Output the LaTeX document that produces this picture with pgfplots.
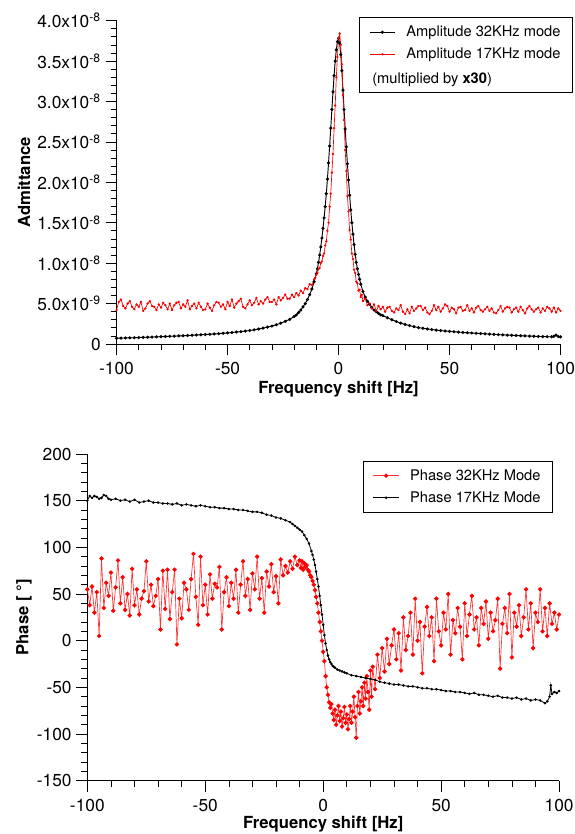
\documentclass[border=0pt]{standalone}
\usepackage{fontspec}
\setmainfont{TeX Gyre Heros}
\usepackage{pgfplots}
\pgfplotsset{compat=1.18}

\newcommand{\lblfont}{\fontsize{12.5}{15}\selectfont\bfseries}
\newcommand{\legfont}{\fontsize{11}{13}\selectfont}

\pgfplotsset{myax/.style={
  scale only axis, axis lines*=left,
  axis line style={-, black, line width=0.6pt},
  tick align=outside, major tick length=8.25pt, minor tick length=4.5pt,
  every tick/.append style={black, line width=0.5pt},
  tick label style={font=\fontsize{13}{15}\selectfont},
  xticklabel shift=2pt,
  /pgf/number format/assume math mode=true,
  xmin=-100, xmax=100, xtick={-100,-50,0,50,100}, xticklabels={-100,-50,0,50,100},
  minor x tick num=4, minor y tick num=4,
  legend cell align=left,
  legend image code/.code={\draw[mark repeat=2,mark phase=2,##1] plot coordinates {(0cm,0cm) (0.34cm,0cm) (0.68cm,0cm)};},
}}

\begin{document}
\begin{tikzpicture}
\useasboundingbox (0,0) rectangle (430.5pt,625.5pt);

% ---------------- top: admittance ----------------
\begin{axis}[myax, at={(87.4pt,367.5pt)}, anchor=south west,
  width=333pt, height=242.5pt,
  ymin=0, ymax=4,
  ytick={0,0.5,1,1.5,2,2.5,3,3.5,4},
  yticklabels={0,5.0x10\textsuperscript{-9},1.0x10\textsuperscript{-8},1.5x10\textsuperscript{-8},2.0x10\textsuperscript{-8},2.5x10\textsuperscript{-8},3.0x10\textsuperscript{-8},3.5x10\textsuperscript{-8},4.0x10\textsuperscript{-8}},
  xlabel={\lblfont Frequency shift [Hz]},
  ylabel={\lblfont Admittance},
  every axis y label/.style={at={(axis description cs:-0.2083,0.5)}, rotate=90, anchor=center},
  every axis x label/.style={at={(axis description cs:0.5,0)}, anchor=base, yshift=-37pt},
  legend style={at={(1.028,1.012)}, anchor=north east, draw=black, line width=0.6pt, inner xsep=7pt, inner ysep=4.5pt, row sep=3pt, column sep=6pt},
]
\addplot[black, line width=0.7pt, mark=*, mark size=0.8pt] coordinates {
(-100,0.071)(-98,0.073)(-96,0.075)(-94,0.076)(-92,0.078)(-90,0.080)(-88,0.082)(-86,0.084)(-84,0.086)(-82,0.088)
(-80,0.091)(-78,0.093)(-76,0.095)(-74,0.097)(-72,0.100)(-70,0.102)(-68,0.105)(-66,0.108)(-64,0.111)(-62,0.114)
(-60,0.117)(-58,0.120)(-56,0.124)(-54,0.128)(-52,0.133)(-50,0.137)(-48,0.142)(-46,0.148)(-44,0.153)(-42,0.160)
(-40,0.167)(-38,0.175)(-36,0.185)(-34,0.196)(-32,0.209)(-30,0.222)(-28,0.238)(-26,0.258)(-24,0.280)(-22,0.305)
(-20,0.340)(-19,0.360)(-18,0.390)(-17,0.420)(-16,0.460)(-15,0.500)(-14,0.550)(-13,0.610)(-12,0.680)(-11,0.770)
(-10,0.870)(-9.5,0.930)(-9,1.010)(-8.5,1.100)(-8,1.200)(-7.5,1.310)(-7,1.430)(-6.5,1.560)(-6,1.700)(-5.5,1.860)
(-5,2.040)(-4.5,2.240)(-4,2.450)(-3.5,2.670)(-3,2.900)(-2.5,3.120)(-2,3.320)(-1.5,3.500)(-1,3.640)(-0.5,3.740)
(0,3.780)(0.5,3.720)(1,3.580)(1.5,3.380)(2,3.140)(2.5,2.900)(3,2.660)(3.5,2.440)(4,2.230)(4.5,2.030)
(5,1.840)(5.5,1.660)(6,1.500)(6.5,1.360)(7,1.230)(7.5,1.110)(8,1.010)(8.5,0.930)(9,0.860)(9.5,0.800)
(10,0.740)(11,0.650)(12,0.580)(13,0.530)(14,0.490)(15,0.450)(16,0.420)(17,0.400)(18,0.380)(19,0.360)
(20,0.350)(22,0.325)(24,0.300)(26,0.278)(28,0.258)(30,0.242)(32,0.228)(34,0.214)(36,0.203)(38,0.194)
(40,0.186)(42,0.179)(44,0.172)(46,0.166)(48,0.161)(50,0.156)(52,0.152)(54,0.147)(56,0.143)(58,0.139)
(60,0.136)(62,0.132)(64,0.129)(66,0.126)(68,0.122)(70,0.119)(72,0.116)(74,0.113)(76,0.110)(78,0.108)
(80,0.105)(82,0.102)(84,0.100)(86,0.098)(88,0.096)(90,0.094)(92,0.092)(94,0.090)(96,0.089)(97,0.095)
(98,0.110)(99,0.092)(100,0.088)
};
\addlegendentry{\legfont Amplitude 32KHz mode}
\addplot[red, line width=0.5pt, mark=*, mark size=0.6pt] coordinates {
(-100,0.42)(-99,0.52)(-98,0.55)(-97,0.47)(-96,0.44)(-95,0.50)(-94,0.53)(-93,0.46)(-92,0.43)(-91,0.49)
(-90,0.46)(-89,0.52)(-88,0.41)(-87,0.44)(-86,0.50)(-85,0.53)(-84,0.47)(-83,0.46)(-82,0.42)(-81,0.49)
(-80,0.45)(-79,0.51)(-78,0.48)(-77,0.43)(-76,0.50)(-75,0.42)(-74,0.48)(-73,0.51)(-72,0.52)(-71,0.44)
(-70,0.49)(-69,0.46)(-68,0.54)(-67,0.43)(-66,0.47)(-65,0.50)(-64,0.44)(-63,0.51)(-62,0.46)(-61,0.42)
(-60,0.43)(-59,0.50)(-58,0.45)(-57,0.41)(-56,0.48)(-55,0.52)(-54,0.51)(-53,0.46)(-52,0.49)(-51,0.43)
(-50,0.52)(-49,0.47)(-48,0.55)(-47,0.45)(-46,0.50)(-45,0.53)(-44,0.56)(-43,0.46)(-42,0.44)(-41,0.49)
(-40,0.54)(-39,0.48)(-38,0.51)(-37,0.57)(-36,0.49)(-35,0.53)(-34,0.50)(-33,0.55)(-32,0.58)(-31,0.52)
(-30,0.52)(-29,0.55)(-28,0.49)(-27,0.58)(-26,0.54)(-25,0.57)(-24,0.61)(-23,0.56)(-22,0.56)(-21,0.61)
(-20,0.58)(-19,0.63)(-18,0.60)(-17,0.66)(-16,0.63)(-15,0.69)(-14,0.68)(-13,0.74)(-12,0.73)(-11,0.80)
(-10.5,0.82)(-10,0.86)(-9.5,0.88)(-9,0.93)(-8.5,0.94)(-8,1.00)(-7.5,1.02)(-7,1.09)(-6.5,1.12)(-6,1.22)
(-5.5,1.27)(-5,1.40)(-4.5,1.50)(-4,1.70)(-3.5,1.86)(-3,2.12)(-2.5,2.35)(-2,2.67)(-1.5,2.95)(-1,3.30)
(-0.5,3.55)(0,3.78)(0.5,3.84)(1,3.70)(1.5,3.46)(2,3.08)(2.5,2.77)(3,2.40)(3.5,2.14)(4,1.83)
(4.5,1.64)(5,1.41)(5.5,1.29)(6,1.12)(6.5,1.05)(7,0.92)(7.5,0.88)(8,0.77)(8.5,0.75)(9,0.66)
(9.5,0.67)(10,0.58)(10.5,0.61)(11,0.53)(12,0.56)(13,0.48)(14,0.50)(15,0.44)(16,0.49)(17,0.41)
(18,0.47)(19,0.43)(20,0.46)(21,0.40)(22,0.45)(23,0.46)(24,0.41)(25,0.39)(26,0.44)(27,0.42)
(28,0.48)(29,0.40)(30,0.37)(31,0.43)(32,0.38)(33,0.46)(34,0.41)(35,0.44)(36,0.47)(37,0.47)
(38,0.42)(39,0.45)(40,0.39)(41,0.37)(42,0.41)(43,0.48)(44,0.42)(45,0.46)(46,0.40)(47,0.44)
(48,0.49)(49,0.47)(50,0.40)(51,0.45)(52,0.43)(53,0.38)(54,0.45)(55,0.46)(56,0.41)(57,0.42)
(58,0.48)(59,0.41)(60,0.44)(61,0.39)(62,0.45)(63,0.47)(64,0.42)(65,0.40)(66,0.43)(67,0.46)
(68,0.41)(69,0.44)(70,0.39)(71,0.38)(72,0.42)(73,0.47)(74,0.40)(75,0.44)(76,0.46)(77,0.45)
(78,0.39)(79,0.43)(80,0.45)(81,0.40)(82,0.46)(83,0.42)(84,0.38)(85,0.44)(86,0.47)(87,0.43)
(88,0.40)(89,0.43)(90,0.45)(91,0.39)(92,0.44)(93,0.41)(94,0.46)(95,0.44)(96,0.40)(97,0.45)
(98,0.39)(99,0.44)(100,0.41)
};
\addlegendentry{\legfont Amplitude 17KHz mode}
\addlegendimage{empty legend}
\addlegendentry{\legfont\strut}
\coordinate (multpos) at (axis description cs:0.5755,0.807);
\end{axis}
\node[anchor=base west, inner sep=0pt] at (multpos) {\legfont (multiplied by \textbf{x30})};

% ---------------- bottom: phase ----------------
\begin{axis}[myax, at={(65.5pt,40pt)}, anchor=south west,
  width=353.8pt, height=245pt,
  ymin=-150, ymax=200,
  ytick={-150,-100,-50,0,50,100,150,200},
  yticklabels={-150,-100,-50,0,50,100,150,200},
  xlabel={\lblfont Frequency shift [Hz]},
  ylabel={\lblfont Phase [ °]},
  every axis y label/.style={at={(axis description cs:-0.1342,0.5)}, rotate=90, anchor=center},
  every axis x label/.style={at={(axis description cs:0.5,0)}, anchor=base, yshift=-35.5pt},
  legend style={at={(0.987,0.9786)}, anchor=north east, draw=black, line width=0.6pt, inner xsep=7pt, inner ysep=4pt, row sep=3pt, column sep=6pt},
]
\addplot[red!80, line width=0.5pt, mark=*, mark size=1.4pt, mark options={fill=red, draw=red}] coordinates {
(-100,55)(-99,38)(-98,58)(-97,30)(-96,52)(-95,5)(-94,88)(-93,35)(-92,62)(-91,48)
(-90,73)(-89,32)(-88,57)(-87,86)(-86,40)(-85,68)(-84,33)(-83,50)(-82,27)(-81,77)
(-80,38)(-79,55)(-78,28)(-77,45)(-76,53)(-75,85)(-74,42)(-73,60)(-72,37)(-71,48)
(-70,66)(-69,12)(-68,75)(-67,34)(-66,76)(-65,23)(-64,52)(-63,76)(-62,-4)(-61,45)
(-60,24)(-59,62)(-58,55)(-57,33)(-56,66)(-55,93)(-54,47)(-53,17)(-52,90)(-51,38)
(-50,60)(-49,28)(-48,71)(-47,45)(-46,61)(-45,57)(-44,79)(-43,12)(-42,52)(-41,68)
(-40,37)(-39,62)(-38,45)(-37,76)(-36,30)(-35,60)(-34,85)(-33,48)(-32,66)(-31,33)
(-30,72)(-29,55)(-28,90)(-27,45)(-26,67)(-25,30)(-24,74)(-23,58)(-22,82)(-21,52)
(-20,69)(-19,40)(-18,87)(-17,70)(-16,80)(-15,73)(-14,85)(-13,77)(-12,90)(-11,81)
(-10,86)(-9.5,78)(-9,85)(-8.5,76)(-8,83)(-7.5,79)(-7,81)(-6.5,76)(-6,74)(-5.5,70)
(-5,68)(-4.5,64)(-4,60)(-3.5,54)(-3,47)(-2.5,40)(-2,30)(-1.5,20)(-1,10)(-0.5,0)
(0,-12)(0.5,-22)(1,-38)(1.5,-50)(2,-58)(2.5,-66)(3,-72)(3.5,-68)(4,-78)(4.5,-85)
(5,-74)(5.5,-90)(6,-80)(6.5,-70)(7,-86)(7.5,-76)(8,-92)(8.5,-83)(9,-71)(9.5,-88)
(10,-79)(10.5,-95)(11,-84)(11.5,-70)(12,-88)(12.5,-76)(13,-60)(13.5,-82)(14,-104)(14.5,-70)
(15,-55)(15.5,-78)(16,-65)(16.5,-50)(17,-70)(17.5,-45)(18,-62)(18.5,-38)(19,-55)(19.5,-74)
(20,-32)(20.5,-60)(21,-28)(22,-52)(23,-15)(24,-40)(25,-8)(26,-33)(27,2)(28,-25)
(29,-5)(30,12)(31,-20)(32,8)(33,-32)(34,25)(35,-10)(36,5)(37,30)(38,-15)
(39,45)(40,0)(41,20)(42,-35)(43,15)(44,36)(45,5)(46,25)(47,-22)(48,45)
(49,10)(50,-5)(51,30)(52,12)(53,50)(54,-15)(55,22)(56,8)(57,35)(58,15)
(59,-20)(60,40)(61,5)(62,28)(63,48)(64,12)(65,25)(66,-5)(67,35)(68,18)
(69,42)(70,2)(71,30)(72,10)(73,22)(74,45)(75,-30)(76,18)(77,35)(78,8)
(79,50)(80,-18)(81,30)(82,15)(83,38)(84,5)(85,25)(86,55)(87,12)(88,40)
(89,-8)(90,30)(91,20)(92,55)(93,10)(94,35)(95,5)(96,40)(97,18)(98,30)
(99,12)(100,28)
};
\addlegendentry{\legfont Phase 32KHz Mode}
\addplot[black, line width=0.6pt, mark=*, mark size=0.65pt] coordinates {
(-100,150)(-99,155)(-98,153)(-97,155)(-96,154)(-95,152)(-94,153)(-93,156)(-92,155)(-91,152)
(-90,151)(-88,152)(-86,150)(-84,151)(-82,149)(-80,151)(-78,148)(-76,149)(-74,150)(-72,148)
(-70,148)(-68,147)(-66,147)(-64,146)(-62,147)(-60,145)(-58,146)(-56,145)(-54,144)(-52,145)
(-50,144)(-48,143)(-46,143)(-44,142)(-42,142)(-40,141)(-38,141)(-36,140)(-34,140)(-32,139)
(-30,138)(-28,138)(-26,137)(-24,135)(-22,134)(-20,132)(-18,131)(-16,129)(-14,127)(-13,125)
(-12,123)(-11,121)(-10,119)(-9,117)(-8,113)(-7,109)(-6,104)(-5,96)(-4.5,92)(-4,87)
(-3.5,81)(-3,74)(-2.5,66)(-2,58)(-1.5,48)(-1,38)(-0.5,28)(0,17)(0.5,6)(1,-3)
(1.5,-10)(2,-16)(2.5,-20)(3,-23)(3.5,-25)(4,-27)(4.5,-28)(5,-29)(6,-31)(7,-32)
(8,-33)(9,-34)(10,-35)(12,-37)(14,-38)(16,-39)(18,-40)(20,-41)(22,-42)(24,-44)
(26,-45)(28,-46)(30,-47)(32,-47)(34,-48)(36,-49)(38,-49)(40,-50)(42,-51)(44,-51)
(46,-52)(48,-52)(50,-53)(52,-54)(54,-54)(56,-55)(58,-55)(60,-56)(62,-57)(64,-56)
(66,-58)(68,-58)(70,-59)(72,-60)(74,-59)(76,-61)(78,-61)(80,-62)(82,-61)(84,-63)
(86,-62)(88,-64)(90,-63)(92,-64)(94,-67)(95,-65)(96,-60)(96.5,-48)(97,-57)(98,-55)
(99,-56)(100,-54)
};
\addlegendentry{\legfont Phase 17KHz Mode}
\end{axis}
\end{tikzpicture}
\end{document}
